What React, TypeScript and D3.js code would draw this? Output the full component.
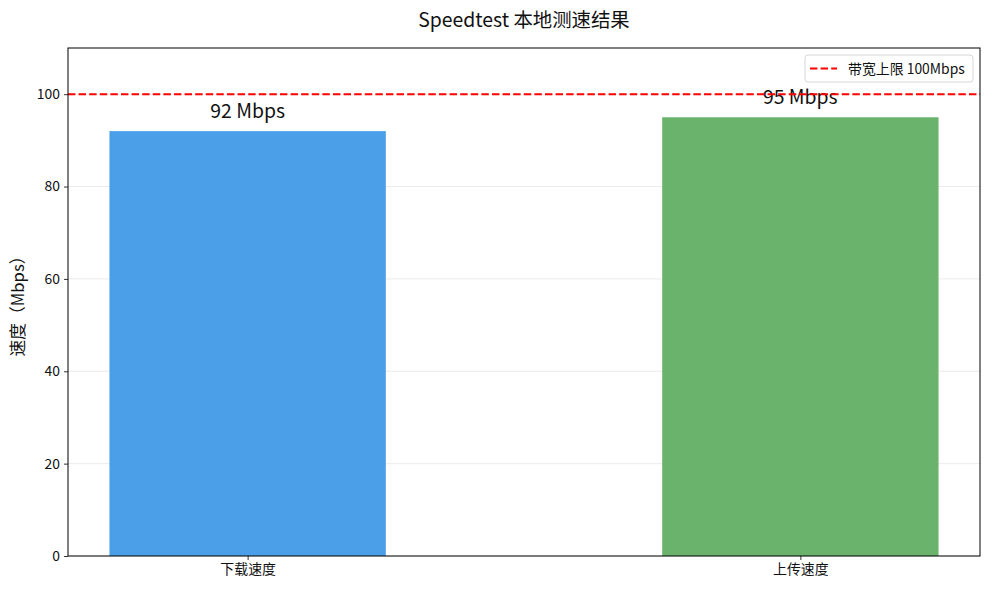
import React, { useEffect, useRef } from "react";
import * as d3 from "d3";

const categories = ["下载速度", "上传速度"];
const speeds = [92, 95];
const barColors = ["#4a9fe8", "#6ab36d"];
const yTicks = [0, 20, 40, 60, 80, 100];
const bandwidthLimit = 100;

const FONT = "'Noto Sans CJK SC', 'Noto Sans', sans-serif";

const App: React.FC = () => {
  const svgRef = useRef<SVGSVGElement>(null);

  useEffect(() => {
    if (!svgRef.current) return;
    const root = d3.select(svgRef.current);
    root.selectAll("*").remove();

    const width = 990;
    const height = 590;
    const margin = { top: 48, right: 10, bottom: 34, left: 68 };
    const innerW = width - margin.left - margin.right;
    const innerH = height - margin.top - margin.bottom;

    root.attr("width", width).attr("height", height).style("font-family", FONT);
    root.append("rect").attr("width", width).attr("height", height).attr("fill", "#fff");

    const svg = root.append("g").attr("transform", `translate(${margin.left},${margin.top})`);

    // matplotlib-like numeric x positions: bars at 0,1 with width 0.5
    const x = d3.scaleLinear().domain([-0.325, 1.325]).range([0, innerW]);
    const y = d3.scaleLinear().domain([0, 110]).range([innerH, 0]);
    const barW = x(0.5) - x(0);

    // grid
    svg
      .append("g")
      .selectAll("line")
      .data(yTicks)
      .enter()
      .append("line")
      .attr("x1", 0)
      .attr("x2", innerW)
      .attr("y1", (d) => y(d))
      .attr("y2", (d) => y(d))
      .attr("stroke", "#e6e6e6")
      .attr("stroke-width", 0.8);

    // bars
    svg
      .selectAll(".bar")
      .data(speeds)
      .enter()
      .append("rect")
      .attr("x", (_d, i) => x(i) - barW / 2)
      .attr("y", (d) => y(d))
      .attr("width", barW)
      .attr("height", (d) => innerH - y(d))
      .attr("fill", (_d, i) => barColors[i]);

    // value labels
    svg
      .selectAll(".value-label")
      .data(speeds)
      .enter()
      .append("text")
      .attr("x", (_d, i) => x(i))
      .attr("y", (d) => y(d + 2) - 4)
      .attr("text-anchor", "middle")
      .style("font-size", "19.4px")
      .attr("fill", "#111")
      .text((d) => `${d} Mbps`);

    // limit line
    svg
      .append("line")
      .attr("x1", 0)
      .attr("x2", innerW)
      .attr("y1", y(bandwidthLimit))
      .attr("y2", y(bandwidthLimit))
      .attr("stroke", "#ff0000")
      .attr("stroke-width", 2)
      .attr("stroke-dasharray", "7.4,3.2");

    // axes
    const yAxis = svg
      .append("g")
      .call(d3.axisLeft(y).tickValues(yTicks).tickSize(4).tickPadding(4));
    const xAxis = svg
      .append("g")
      .attr("transform", `translate(0,${innerH})`)
      .call(
        d3
          .axisBottom(x)
          .tickValues([0, 1])
          .tickFormat((_d, i) => categories[i])
          .tickSize(4)
          .tickPadding(4)
      );
    [yAxis, xAxis].forEach((g) => {
      g.select(".domain").remove();
      g.selectAll("line").attr("stroke", "#000").attr("stroke-width", 0.8);
      g.selectAll("text").style("font-size", "13.9px").style("font-family", FONT).attr("fill", "#111");
    });

    // frame
    svg
      .append("rect")
      .attr("width", innerW)
      .attr("height", innerH)
      .attr("fill", "none")
      .attr("stroke", "#000")
      .attr("stroke-width", 1);

    // title
    root
      .append("text")
      .attr("x", margin.left + innerW / 2)
      .attr("y", 27)
      .attr("text-anchor", "middle")
      .style("font-size", "19.4px")
      .attr("fill", "#111")
      .text("Speedtest 本地测速结果");

    // y label
    root
      .append("text")
      .attr("transform", `translate(24,${margin.top + innerH / 2}) rotate(-90)`)
      .attr("text-anchor", "middle")
      .style("font-size", "16.7px")
      .attr("fill", "#111")
      .text("速度（Mbps）");

    // legend
    const lg = root.append("g").attr("transform", "translate(805,55)");
    lg.append("rect")
      .attr("width", 168)
      .attr("height", 27)
      .attr("rx", 3)
      .attr("fill", "#fff")
      .attr("fill-opacity", 0.8)
      .attr("stroke", "#d6d6d6");
    lg.append("line")
      .attr("x1", 5)
      .attr("x2", 32)
      .attr("y1", 13.5)
      .attr("y2", 13.5)
      .attr("stroke", "#ff0000")
      .attr("stroke-width", 2)
      .attr("stroke-dasharray", "7.4,3.2");
    lg.append("text")
      .attr("x", 43)
      .attr("y", 18.5)
      .style("font-size", "13.9px")
      .attr("fill", "#111")
      .text(`带宽上限 ${bandwidthLimit}Mbps`);
  }, []);

  return (
    <svg
      ref={svgRef}
      style={{ position: "absolute", left: 0, top: 0, display: "block" }}
    />
  );
};

export default App;
